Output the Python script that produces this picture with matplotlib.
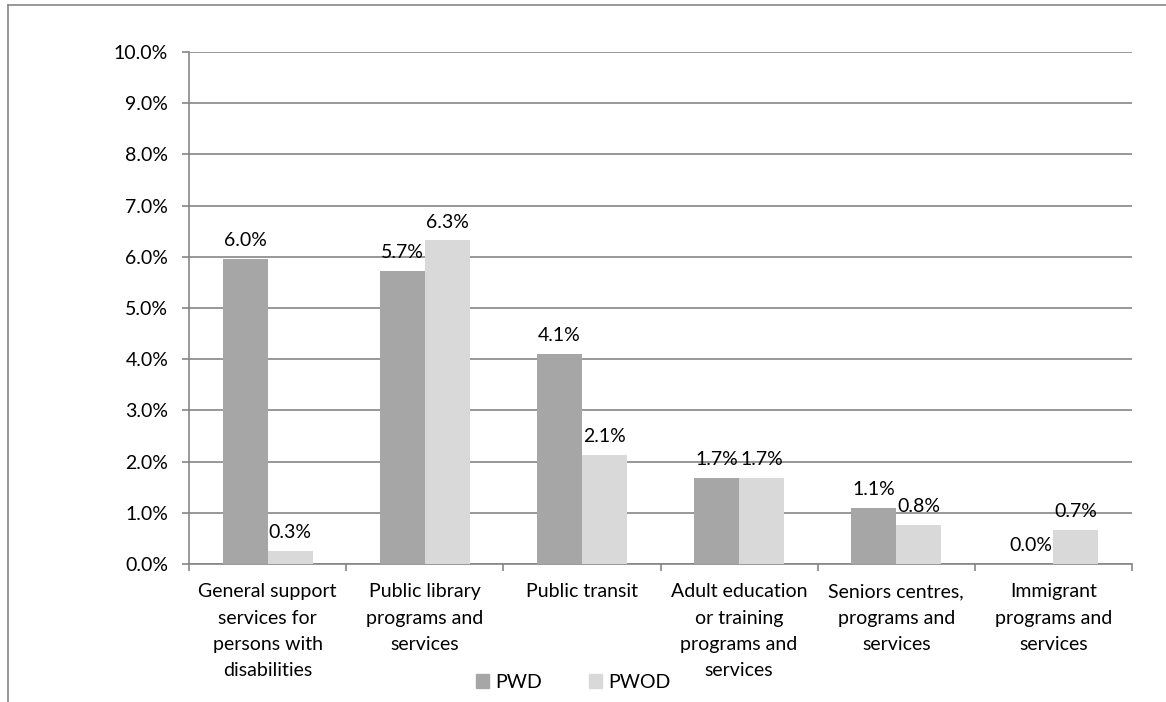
import numpy as np
import matplotlib as mpl
mpl.use('Agg')
from matplotlib import pyplot as plt
from matplotlib.lines import Line2D
from matplotlib.patches import Patch

plt.rcParams['font.family'] = ['Lato', 'DejaVu Sans']

# data (percent)
categories = ['General support\nservices for\npersons with\ndisabilities',
              'Public library\nprograms and\nservices',
              'Public transit',
              'Adult education\nor training\nprograms and\nservices',
              'Seniors centres,\nprograms and\nservices',
              'Immigrant\nprograms and\nservices']
pwd = [5.96, 5.72, 4.10, 1.68, 1.10, 0.0]
pwod = [0.26, 6.32, 2.13, 1.68, 0.77, 0.67]
yticks = np.arange(0, 11, 1)

c_pwd = '#a6a6a6'
c_pwod = '#d9d9d9'
c_grid = '#868686'
fs = 14

fig = plt.figure(figsize=(11.66, 7.02), dpi=100)
ax = fig.add_axes([189/1166, 1-564/702, (1132-189)/1166, (564-52)/702])

x = np.arange(len(categories))
w = 0.286
b1 = ax.bar(x - w/2, pwd, w, color=c_pwd, zorder=3, label='PWD')
b2 = ax.bar(x + w/2, pwod, w, color=c_pwod, zorder=3, label='PWOD')
for bars in (b1, b2):
  for r in bars:
    h = r.get_height()
    ax.annotate('%.1f%%' % h, (r.get_x() + r.get_width()/2, h),
                xytext=(0, 7), textcoords='offset points',
                ha='center', va='bottom', fontsize=fs)

ax.set_xlim(-0.5, len(categories) - 0.5)
ax.set_ylim(0, 10)
ax.set_yticks(yticks)
ax.set_yticklabels(['%.1f%%' % v for v in yticks], fontsize=fs)
ax.yaxis.grid(True, color=c_grid, lw=1.2, zorder=0)
ax.set_axisbelow(True)

ax.set_xticks(np.arange(-0.5, len(categories), 1.0))
ax.set_xticklabels([])
ax.set_xticks(x, minor=True)
ax.set_xticklabels(categories, minor=True, fontsize=fs, linespacing=1.65)
ax.tick_params(axis='x', which='minor', length=0, pad=14)
ax.tick_params(axis='x', which='major', length=5, color=c_grid, width=1.2)
ax.tick_params(axis='y', length=5, color=c_grid, width=1.2, pad=10)

for s in ('top', 'right'):
  ax.spines[s].set_visible(False)
for s in ('left', 'bottom'):
  ax.spines[s].set_color(c_grid)
  ax.spines[s].set_linewidth(1.2)

handles = [Patch(color=c_pwd), Patch(color=c_pwod)]
fig.legend(handles, ['PWD', 'PWOD'], loc='center', bbox_to_anchor=(573/1166, 1-682/702),
           ncol=2, frameon=False, fontsize=fs, handlelength=0.7, handleheight=0.7,
           handletextpad=0.3, columnspacing=2.4)

# chart-area border (only top and left visible in the crop)
fig.add_artist(Line2D([8/1166, 8/1166], [0, 1-5/702], color='#888888', lw=1.2))
fig.add_artist(Line2D([8/1166, 1], [1-5/702, 1-5/702], color='#888888', lw=1.2))

fig.savefig('out.png', dpi=100)
